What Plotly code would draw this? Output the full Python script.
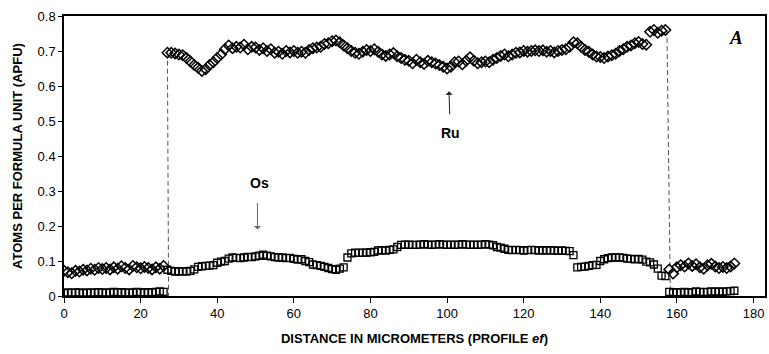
import plotly.graph_objects as go

# Distance along profile ef (micrometers), 1 µm steps
distance_um = list(range(0, 176))

ru_left = [0.072, 0.068, 0.065, 0.072, 0.070, 0.075, 0.073, 0.078, 0.075, 0.080,
           0.077, 0.080, 0.076, 0.082, 0.078, 0.085, 0.080, 0.076, 0.086, 0.082,
           0.079, 0.083, 0.080, 0.076, 0.082, 0.078, 0.086]
ru_mid = [0.695, 0.695, 0.693, 0.690, 0.688, 0.680, 0.670, 0.660, 0.652, 0.643,
          0.648, 0.660, 0.668, 0.680, 0.690, 0.705, 0.716, 0.708, 0.712, 0.710,
          0.718, 0.705, 0.712, 0.710, 0.703, 0.708, 0.700, 0.705, 0.695, 0.698,
          0.692, 0.700, 0.696, 0.700, 0.695, 0.698, 0.695, 0.703, 0.708, 0.710,
          0.712, 0.720, 0.722, 0.728, 0.730, 0.725, 0.716, 0.708, 0.700, 0.695,
          0.692, 0.698, 0.703, 0.700, 0.705, 0.698, 0.690, 0.686, 0.690, 0.694,
          0.685, 0.680, 0.675, 0.672, 0.665, 0.675, 0.668, 0.663, 0.672, 0.668,
          0.664, 0.660, 0.655, 0.650, 0.655, 0.668, 0.670, 0.662, 0.672, 0.682,
          0.672, 0.665, 0.668, 0.670, 0.668, 0.675, 0.680, 0.686, 0.690, 0.685,
          0.690, 0.695, 0.696, 0.700, 0.698, 0.700, 0.702, 0.700, 0.702, 0.698,
          0.700, 0.696, 0.700, 0.703, 0.705, 0.712, 0.725, 0.722, 0.712, 0.703,
          0.698, 0.690, 0.684, 0.683, 0.680, 0.684, 0.688, 0.692, 0.700, 0.705,
          0.712, 0.716, 0.722, 0.726, 0.720, 0.718, 0.755, 0.760, 0.752, 0.758,
          0.760]
ru_right = [0.076, 0.064, 0.082, 0.088, 0.084, 0.093, 0.086, 0.091, 0.082, 0.078,
            0.088, 0.092, 0.084, 0.080, 0.083, 0.080, 0.084, 0.093]

os_left = [0.008, 0.010, 0.009, 0.010, 0.010, 0.008, 0.010, 0.009, 0.010, 0.011,
           0.010, 0.009, 0.010, 0.012, 0.010, 0.011, 0.010, 0.009, 0.010, 0.012,
           0.010, 0.010, 0.011, 0.010, 0.012, 0.013, 0.012]
os_mid = [0.075, 0.072, 0.070, 0.070, 0.071, 0.070, 0.072, 0.076, 0.083, 0.085,
          0.086, 0.087, 0.088, 0.095, 0.098, 0.100, 0.107, 0.110, 0.109, 0.108,
          0.110, 0.112, 0.111, 0.113, 0.115, 0.118, 0.115, 0.113, 0.111, 0.110,
          0.110, 0.108, 0.109, 0.106, 0.104, 0.105, 0.100, 0.097, 0.090, 0.088,
          0.086, 0.083, 0.080, 0.077, 0.075, 0.078, 0.082, 0.110, 0.122, 0.124,
          0.123, 0.124, 0.124, 0.125, 0.126, 0.130, 0.131, 0.130, 0.132, 0.133,
          0.140, 0.146, 0.147, 0.147, 0.146, 0.146, 0.147, 0.148, 0.147, 0.146,
          0.147, 0.148, 0.147, 0.146, 0.147, 0.146, 0.147, 0.148, 0.147, 0.146,
          0.147, 0.146, 0.147, 0.148, 0.147, 0.145, 0.140, 0.138, 0.135, 0.132,
          0.131, 0.132, 0.131, 0.130, 0.131, 0.132, 0.131, 0.130, 0.131, 0.130,
          0.131, 0.130, 0.129, 0.130, 0.129, 0.128, 0.117, 0.082, 0.083, 0.084,
          0.086, 0.088, 0.089, 0.100, 0.105, 0.108, 0.110, 0.110, 0.110, 0.109,
          0.107, 0.106, 0.105, 0.106, 0.104, 0.098, 0.096, 0.090, 0.078, 0.058,
          0.057]
os_right = [0.012, 0.010, 0.011, 0.010, 0.012, 0.010, 0.011, 0.013, 0.012, 0.011,
            0.012, 0.013, 0.012, 0.013, 0.012, 0.013, 0.014, 0.015]

ru = ru_left + ru_mid + ru_right
os_ = os_left + os_mid + os_right

# Phase boundaries (dashed lines): x at top / bottom, and y extent
boundary_top_x = [27.0, 157.4]
boundary_bot_x = [27.3, 158.3]
boundary_top_y = [0.695, 0.760]

x_ticks = [0, 20, 40, 60, 80, 100, 120, 140, 160, 180]
y_ticks = [0, 0.1, 0.2, 0.3, 0.4, 0.5, 0.6, 0.7, 0.8]
y_tick_text = ["0", "0.1", "0.2", "0.3", "0.4", "0.5", "0.6", "0.7", "0.8"]

fig = go.Figure()

for xt, xb, yt in zip(boundary_top_x, boundary_bot_x, boundary_top_y):
    fig.add_trace(go.Scatter(x=[xt, xb], y=[yt, 0.0], mode="lines",
                             line=dict(color="#555555", width=1, dash="5px,3px"),
                             hoverinfo="skip", showlegend=False))

fig.add_trace(go.Scatter(x=distance_um, y=os_, mode="markers", name="Os",
                         marker=dict(symbol="square-open", size=7, color="black",
                                     line=dict(width=1.3, color="black")),
                         showlegend=False))
fig.add_trace(go.Scatter(x=distance_um, y=ru, mode="markers", name="Ru",
                         marker=dict(symbol="diamond-open", size=8, color="black",
                                     line=dict(width=1.5, color="black")),
                         showlegend=False))

label_font = dict(family="Arial, Liberation Sans", size=14, color="black")

# Annotations: Ru arrow (pointing up), Os arrow (pointing down), panel letter
fig.add_annotation(x=100.5, y=0.585, ax=100.7, ay=0.515, xref="x", yref="y",
                   axref="x", ayref="y", text="", showarrow=True,
                   arrowhead=1, arrowsize=1.2, arrowwidth=1, arrowcolor="#222222")
fig.add_annotation(x=101, y=0.465, text="<b>Ru</b>", showarrow=False, font=label_font)
fig.add_annotation(x=50.5, y=0.19, ax=50.5, ay=0.27, xref="x", yref="y",
                   axref="x", ayref="y", text="", showarrow=True,
                   arrowhead=1, arrowsize=1.2, arrowwidth=1, arrowcolor="#666666")
fig.add_annotation(x=51, y=0.322, text="<b>Os</b>", showarrow=False, font=label_font)
fig.add_annotation(x=175.5, y=0.74, text="<b><i>A</i></b>", showarrow=False,
                   font=dict(family="Liberation Serif, Times New Roman", size=19, color="black"))

axis_font = dict(family="Arial, Liberation Sans", size=13, color="black")
title_font = dict(family="Arial, Liberation Sans", size=13, color="black")

fig.update_layout(
    width=769, height=354,
    margin=dict(l=64, r=2, t=16, b=58),
    paper_bgcolor="white", plot_bgcolor="white",
    font=axis_font,
    xaxis=dict(range=[0, 183], tickmode="array", tickvals=x_ticks,
               ticks="outside", ticklen=5, tickwidth=1, tickcolor="black",
               showline=True, linecolor="black", linewidth=1.5, mirror=True,
               showgrid=False, zeroline=False, tickfont=axis_font,
               title=dict(text="<b>DISTANCE IN MICROMETERS (PROFILE <i>ef</i>)</b>",
                          font=title_font, standoff=14)),
    yaxis=dict(range=[0, 0.8], tickmode="array", tickvals=y_ticks, ticktext=y_tick_text,
               ticks="outside", ticklen=4, tickwidth=1, tickcolor="black",
               showline=True, linecolor="black", linewidth=1.5, mirror=True,
               showgrid=False, zeroline=False, tickfont=axis_font,
               title=dict(text="<b>ATOMS PER FORMULA UNIT (APFU)</b>",
                          font=title_font, standoff=12)),
)

fig.write_html("out.html")
